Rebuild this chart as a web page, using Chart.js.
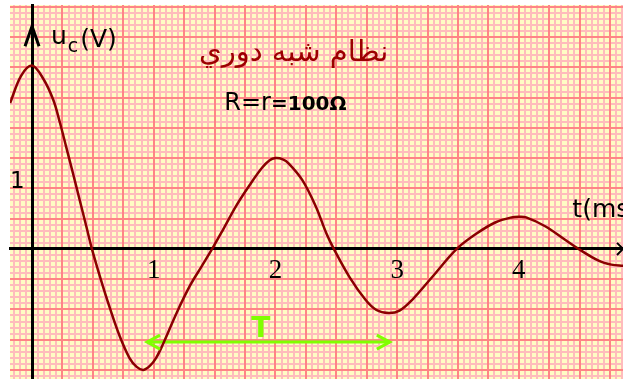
<!DOCTYPE html>
<html>
<head>
<meta charset="utf-8">
<script src="https://cdn.jsdelivr.net/npm/chart.js@4.4.1/dist/chart.umd.min.js"></script>
<style>
  body { margin: 0; background: #fff; }
  canvas { display: block; }
</style>
</head>
<body>
<canvas id="myChart" width="623" height="379"></canvas>
<script>
const timeMs = [-0.18, -0.09, 0, 0.09, 0.175, 0.23, 0.28, 0.34, 0.39, 0.45, 0.492, 0.56, 0.64, 0.72, 0.80, 0.86, 0.915,
  0.97, 1.02, 1.07, 1.19, 1.30, 1.39, 1.48, 1.57, 1.68, 1.79, 1.89, 1.95, 2.0, 2.06, 2.11, 2.22, 2.33, 2.42, 2.48,
  2.61, 2.74, 2.83, 2.93, 3.02, 3.12, 3.29, 3.49, 3.65, 3.81, 3.94, 4.0, 4.06, 4.22, 4.38, 4.49, 4.66, 4.76, 4.86];
const ucVolts = [2.41, 2.86, 3.03, 2.82, 2.46, 2.08, 1.69, 1.22, 0.82, 0.34, 0, -0.47, -0.98, -1.44, -1.80, -1.95, -2.0,
  -1.93, -1.80, -1.60, -1.05, -0.60, -0.30, 0, 0.32, 0.72, 1.06, 1.34, 1.46, 1.50, 1.48, 1.41, 1.14, 0.71, 0.25, 0,
  -0.47, -0.84, -1.01, -1.06, -1.02, -0.85, -0.46, 0, 0.25, 0.44, 0.52, 0.53, 0.52, 0.37, 0.15, 0, -0.20, -0.26, -0.28];

const xTickLabels = [1, 2, 3, 4];
const yTickLabels = [1];

// flèche de la pseudo-période T
const periodStart = 0.945;
const periodEnd = 2.94;
const periodLevel = -1.54;

const tMin = -0.181, tMax = 4.856;
const uMin = -2.15, uMax = 4.03;

function isOn(v, list) {
    return list.some(l => Math.abs(l - v) < 1e-6);
}

// pas de marge pour les axes centrés
function noPadding(scale) {
    scale.paddingTop = 0;
    scale.paddingBottom = 0;
    scale.paddingLeft = 0;
    scale.paddingRight = 0;
}

function chevron(ctx, x, y, dx, dy, color, w) {
    ctx.save();
    ctx.strokeStyle = color;
    ctx.lineWidth = w;
    ctx.beginPath();
    ctx.moveTo(x + dx, y - dy);
    ctx.lineTo(x, y);
    ctx.lineTo(x + dx, y + dy);
    ctx.stroke();
    ctx.restore();
}

const paperPlugin = {
    id: 'paper',
    beforeDraw(chart) {
        const {ctx, chartArea} = chart;
        ctx.save();
        ctx.fillStyle = '#fffcc4';
        ctx.fillRect(chartArea.left, chartArea.top, chartArea.width, chartArea.height);
        ctx.restore();
    },
    afterDraw(chart) {
        const {ctx, chartArea} = chart;
        const sx = chart.scales.x;
        const sy = chart.scales.y;
        const px = v => sx.getPixelForValue(v);
        const py = v => sy.getPixelForValue(v);

        // flèches des axes
        ctx.save();
        ctx.strokeStyle = '#000';
        ctx.lineWidth = 3;
        ctx.beginPath();
        ctx.moveTo(px(0) - 7, py(3.35));
        ctx.lineTo(px(0), py(3.68));
        ctx.lineTo(px(0) + 7, py(3.35));
        ctx.stroke();
        ctx.lineWidth = 2;
        ctx.beginPath();
        ctx.moveTo(chartArea.right - 6, py(0.1));
        ctx.lineTo(chartArea.right, py(0));
        ctx.lineTo(chartArea.right - 6, py(-0.1));
        ctx.stroke();
        ctx.restore();

        // pointes de la flèche T
        const yT = py(periodLevel);
        chevron(ctx, px(periodStart), yT, 13, 7, '#80ff00', 3);
        chevron(ctx, px(periodEnd), yT, -13, 7, '#80ff00', 3);

        ctx.save();
        ctx.textBaseline = 'alphabetic';
        // titre
        ctx.fillStyle = '#9c0000';
        ctx.font = '29px "DejaVu Sans"';
        ctx.textAlign = 'center';
        ctx.direction = 'rtl';
        ctx.fillText('نظام شبه دوري', px(2.15), py(3.1));
        ctx.direction = 'ltr';

        // R = r = 100 Ω
        ctx.textAlign = 'left';
        ctx.fillStyle = '#000';
        ctx.font = '24px "DejaVu Sans"';
        let x0 = px(1.58);
        const yR = py(2.3);
        ctx.fillText('R=r', x0, yR);
        x0 += ctx.measureText('R=r').width;
        ctx.font = 'bold 20px "DejaVu Sans"';
        ctx.fillText('=100Ω', x0, yR);

        // uc(V)
        ctx.font = '25px "DejaVu Sans"';
        let xu = px(0.155);
        const yu = py(3.38);
        ctx.fillText('u', xu, yu);
        xu += ctx.measureText('u').width + 1;
        ctx.font = '19px "DejaVu Sans"';
        ctx.fillText('c', xu, yu + 8);
        xu += ctx.measureText('c').width + 2;
        ctx.font = '25px "DejaVu Sans"';
        ctx.fillText('(V)', xu, yu + 3);

        // t(ms)
        ctx.fillText('t(ms)', px(4.44), py(0.52));

        // T
        ctx.fillStyle = '#80ff00';
        ctx.font = 'bold 28px "DejaVu Sans"';
        ctx.textAlign = 'center';
        ctx.fillText('T', px(1.88), py(-1.45));
        ctx.restore();
    }
};

const majorColor = '#ff8585';
const minorColor = '#ffbcbc';

const ctx = document.getElementById('myChart').getContext('2d');
const chart = new Chart(ctx, {
    type: 'line',
    data: {
        datasets: [{
            label: 'uc',
            data: timeMs.map((t, i) => ({x: t, y: ucVolts[i]})),
            borderColor: '#8b0000',
            borderWidth: 2.5,
            pointRadius: 0,
            tension: 0.35,
            xAxisID: 'x',
            yAxisID: 'y'
        }, {
            label: 'T',
            data: [{x: periodStart, y: periodLevel}, {x: periodEnd, y: periodLevel}],
            borderColor: '#80ff00',
            borderWidth: 3,
            pointRadius: 0,
            xAxisID: 'x',
            yAxisID: 'y'
        }]
    },
    options: {
        responsive: false,
        animation: false,
        devicePixelRatio: 1,
        layout: {padding: {left: 10, top: 5, right: 0, bottom: 0}},
        plugins: {
            legend: {display: false},
            tooltip: {enabled: false},
            title: {display: false}
        },
        scales: {
            xMinor: {
                axis: 'x', type: 'linear', min: tMin, max: tMax,
                position: {y: 0},
                ticks: {display: false, stepSize: 0.05, includeBounds: false},
                grid: {color: minorColor, lineWidth: 2, drawTicks: false, z: -3},
                border: {display: false},
                afterFit: noPadding
            },
            yMinor: {
                axis: 'y', type: 'linear', min: uMin, max: uMax,
                position: {x: 0},
                ticks: {display: false, stepSize: 0.1, includeBounds: false},
                grid: {color: minorColor, lineWidth: 2, drawTicks: false, z: -3},
                border: {display: false},
                afterFit: noPadding
            },
            x: {
                type: 'linear', min: tMin, max: tMax,
                position: {y: 0},
                ticks: {
                    stepSize: 0.25, includeBounds: false, autoSkip: false, maxRotation: 0,
                    padding: 6, color: '#000',
                    font: {family: 'Liberation Serif', size: 27},
                    callback: v => isOn(v, xTickLabels) ? String(Math.round(v)) : ''
                },
                grid: {color: majorColor, lineWidth: 2, drawTicks: false, z: -2},
                border: {color: '#000', width: 3},
                afterFit: noPadding
            },
            y: {
                type: 'linear', min: uMin, max: uMax,
                position: {x: 0},
                ticks: {
                    stepSize: 0.5, includeBounds: false, autoSkip: false,
                    labelOffset: -6, color: '#000',
                    font: {family: 'DejaVu Sans', size: 23},
                    callback: v => isOn(v, yTickLabels) ? String(Math.round(v)) + ' ' : ''
                },
                grid: {color: majorColor, lineWidth: 2, drawTicks: false, z: -2},
                border: {color: '#000', width: 3},
                afterFit: noPadding
            }
        }
    },
    plugins: [paperPlugin]
});
</script>
</body>
</html>
